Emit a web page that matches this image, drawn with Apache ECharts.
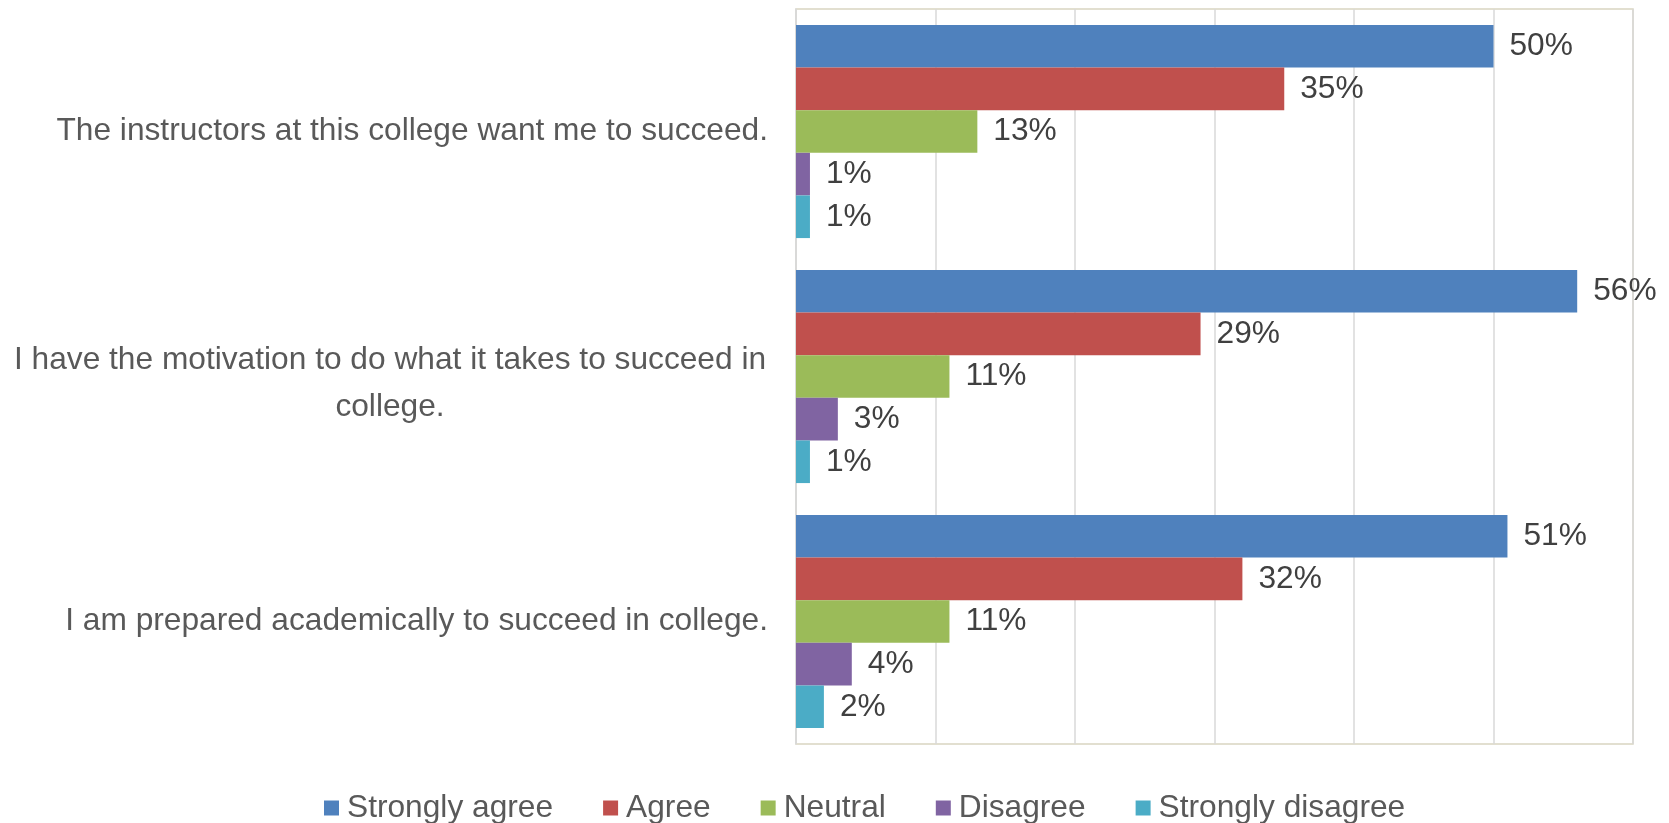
<!DOCTYPE html>
<html>
<head>
<meta charset="utf-8">
<script src="https://cdn.jsdelivr.net/npm/echarts@6/dist/echarts.min.js"></script>
<style>
html,body{margin:0;padding:0;background:#fff;}
#c{width:1669px;height:823px;}
</style>
</head>
<body>
<div id="c"></div>
<script>
const categories = [
  "The instructors at this college want me to succeed.",
  "I have the motivation to do what it takes to succeed in\ncollege.",
  "I am prepared academically to succeed in college."
];
const seriesNames = ["Strongly agree", "Agree", "Neutral", "Disagree", "Strongly disagree"];
const stronglyAgree = [50, 56, 51];
const agree = [35, 29, 32];
const neutral = [13, 11, 11];
const disagree = [1, 3, 4];
const stronglyDisagree = [1, 1, 2];
const colors = ["#4F81BD", "#C0504D", "#9BBB59", "#8064A2", "#4BACC6"];

const values = [stronglyAgree, agree, neutral, disagree, stronglyDisagree];
const FONT = "'Liberation Sans', Arial, sans-serif";
const FS = 31.7;

const chart = echarts.init(document.getElementById('c'));
chart.setOption({
  animation: false,
  textStyle: { fontFamily: FONT },
  grid: {
    left: 796, top: 9, right: 36, bottom: 79,
    show: true, borderColor: '#d9d5c1', borderWidth: 1.5, containLabel: false
  },
  legend: {
    left: 319, top: 787, padding: 5,
    itemWidth: 15, itemHeight: 15, itemGap: 50,
    icon: 'rect',
    textStyle: { fontSize: FS, color: '#595959', fontFamily: FONT, padding: [0, 0, 0, 3] },
    data: seriesNames
  },
  xAxis: {
    type: 'value', min: 0, max: 60, interval: 10,
    axisLabel: { show: false },
    axisLine: { show: false },
    axisTick: { show: false },
    splitLine: { show: true, lineStyle: { color: '#d9d9d9', width: 1.5 } }
  },
  yAxis: {
    type: 'category', inverse: true, data: categories,
    axisTick: { show: false },
    axisLine: { show: true, lineStyle: { color: '#d9d9d9', width: 1.5 } },
    axisLabel: {
      margin: 28, fontSize: FS, color: '#595959', fontFamily: FONT,
      formatter: function (v) {
        if (v.indexOf('\n') >= 0) {
          return '{s| }\n' + v.split('\n').map(l => '{c|' + l + '}').join('\n');
        }
        return v;
      },
      rich: {
        s: { fontSize: 1, lineHeight: 15, width: 756 },
        c: { width: 756, align: 'center', fontSize: FS, color: '#595959', fontFamily: FONT, lineHeight: 47 }
      }
    }
  },
  series: seriesNames.map((name, i) => ({
    name: name,
    type: 'bar',
    data: values[i],
    barGap: '0%',
    barCategoryGap: '13%',
    itemStyle: { color: colors[i] },
    label: {
      show: true, position: 'right', distance: 16,
      formatter: '{c}%', fontSize: FS, color: '#404040', fontFamily: FONT
    }
  }))
});
</script>
</body>
</html>
